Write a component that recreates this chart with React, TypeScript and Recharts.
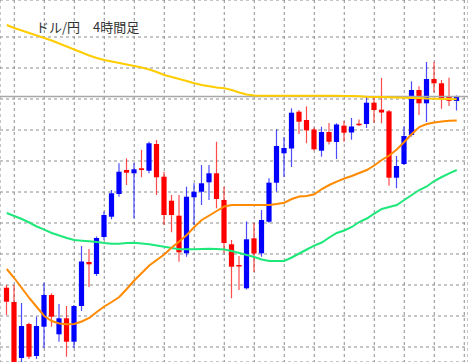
import React from 'react';
import { ComposedChart, Bar, Line, XAxis, YAxis, CartesianGrid, ReferenceLine } from 'recharts';

const chartTitle = 'ドル/円　4時間足';

const opens = [
  107.683, 107.54, 106.98, 107.32, 107.0, 107.293, 107.61, 107.217, 107.377, 107.143,
  107.5, 107.94, 107.82, 108.19, 108.393, 108.62, 108.86, 108.827, 108.877, 108.853,
  109.12, 108.793, 108.553, 108.403, 108.027, 108.587, 108.643, 108.737, 108.827, 108.56,
  108.117, 107.91, 107.677, 108.177, 108.027, 108.343, 108.733, 109.027, 109.075, 109.443,
  109.36, 109.265, 109.053, 109.24, 109.14, 109.303, 109.235, 109.323, 109.32, 109.533,
  109.463, 109.447, 108.783, 108.92, 109.21, 109.66, 109.527, 109.77, 109.727, 109.59,
  109.55,
];
const highs = [
  107.71, 107.71, 107.53, 107.333, 107.393, 107.733, 107.627, 107.52, 107.5, 107.51,
  108.1, 108.07, 108.195, 108.445, 108.66, 108.927, 108.977, 108.93, 109.06, 109.143,
  109.16, 108.843, 108.61, 108.61, 108.693, 108.727, 108.91, 108.91, 109.143, 108.693,
  108.16, 108.0, 108.345, 108.33, 108.46, 108.777, 109.267, 109.19, 109.477, 109.46,
  109.497, 109.285, 109.293, 109.33, 109.327, 109.35, 109.38, 109.365, 109.59, 109.6,
  109.78, 109.46, 109.0, 109.295, 109.747, 109.697, 109.94, 109.94, 109.76, 109.783,
  109.605,
];
const lows = [
  107.41, 106.84, 106.92, 106.97, 106.97, 107.08, 107.293, 107.143, 106.993, 107.08,
  107.45, 107.69, 107.8, 108.16, 108.367, 108.593, 108.71, 108.377, 108.787, 108.827,
  108.61, 108.31, 108.237, 107.943, 107.993, 108.31, 108.51, 108.56, 108.477, 108.03,
  107.577, 107.66, 107.665, 107.84, 107.993, 108.333, 108.643, 108.79, 108.89, 109.22,
  109.127, 109.055, 108.993, 109.115, 108.97, 109.143, 109.163, 109.3, 109.28, 109.33,
  109.327, 108.703, 108.677, 108.91, 109.195, 109.41, 109.34, 109.635, 109.472, 109.5,
  109.455,
];
const closes = [
  107.543, 106.92, 107.3, 106.993, 107.3, 107.61, 107.393, 107.377, 107.143, 107.5,
  107.945, 107.917, 108.18, 108.41, 108.627, 108.843, 108.833, 108.867, 108.86, 109.127,
  108.787, 108.41, 108.41, 108.037, 108.593, 108.643, 108.727, 108.827, 108.57, 108.13,
  107.893, 107.9, 108.167, 108.025, 108.36, 108.733, 109.1, 109.08, 109.433, 109.343,
  109.257, 109.067, 109.24, 109.143, 109.315, 109.233, 109.295, 109.31, 109.533, 109.46,
  109.435, 108.783, 108.9, 109.2, 109.66, 109.527, 109.77, 109.727, 109.577, 109.552,
  109.595,
];

const maLong = [
  110.31, 110.28, 110.255, 110.23, 110.205, 110.18, 110.155, 110.125, 110.095, 110.065,
  110.035, 110.005, 109.98, 109.96, 109.945, 109.93, 109.915, 109.9, 109.885, 109.865,
  109.84, 109.81, 109.79, 109.77, 109.75, 109.727, 109.71, 109.697, 109.685, 109.677,
  109.66, 109.635, 109.615, 109.605, 109.603, 109.603, 109.603, 109.603, 109.603, 109.603,
  109.603, 109.603, 109.603, 109.603, 109.603, 109.6, 109.6, 109.597, 109.593, 109.591,
  109.589, 109.587, 109.585, 109.583, 109.581, 109.579, 109.575, 109.573, 109.571, 109.569,
  109.567,
];
const maMid = [
  107.87, 107.78, 107.68, 107.58, 107.49, 107.4, 107.35, 107.325, 107.317, 107.32,
  107.345, 107.38, 107.44, 107.495, 107.54, 107.59, 107.67, 107.755, 107.83, 107.905,
  107.96, 108.015, 108.085, 108.145, 108.21, 108.29, 108.36, 108.405, 108.45, 108.495,
  108.51, 108.51, 108.51, 108.51, 108.51, 108.51, 108.52, 108.533, 108.57, 108.595,
  108.6, 108.617, 108.67, 108.71, 108.743, 108.775, 108.8, 108.83, 108.86, 108.905,
  108.96, 109.005, 109.065, 109.14, 109.22, 109.29, 109.32, 109.335, 109.345, 109.353,
  109.355,
];
const maShort = [
  108.43, 108.4, 108.37, 108.335, 108.295, 108.263, 108.23, 108.205, 108.18, 108.16,
  108.153, 108.147, 108.14, 108.13, 108.123, 108.123, 108.13, 108.133, 108.125, 108.117,
  108.105, 108.093, 108.08, 108.067, 108.067, 108.067, 108.07, 108.073, 108.07, 108.065,
  108.05, 108.03, 108.01, 107.99, 107.965, 107.95, 107.95, 107.95, 107.985, 108.025,
  108.065, 108.103, 108.135, 108.185, 108.23, 108.255, 108.29, 108.34, 108.375, 108.423,
  108.47, 108.49, 108.51, 108.56, 108.61, 108.66, 108.695, 108.75, 108.79, 108.827,
  108.86,
];

const priceTicks = [110.5, 110.19, 109.88, 109.57, 109.26, 108.95, 108.64, 108.33, 108.02, 107.71, 107.4, 107.09];
const timeTicks = [1, 5, 9, 13, 17, 21, 25, 29, 33, 37, 41, 45, 49, 53, 57, 61];

const data = closes.map((c, i) => ({
  idx: i,
  open: opens[i],
  high: highs[i],
  low: lows[i],
  close: c,
  range: [lows[i], highs[i]],
  maLong: maLong[i],
  maMid: maMid[i],
  maShort: maShort[i],
}));

const Candle = (props: any) => {
  const { x, y, width, height, payload } = props;
  if (x == null || y == null || !payload) return null;
  const { open, close, high, low } = payload;
  const span = high - low;
  const toY = (v: number) => (span === 0 ? y : y + ((high - v) / span) * height);
  const up = close >= open;
  const color = up ? '#0000ff' : '#ff0000';
  const cx = x + width / 2;
  const top = toY(Math.max(open, close));
  const bot = toY(Math.min(open, close));
  const bodyH = Math.max(1.5, bot - top);
  return (
    <g>
      <line x1={cx} x2={cx} y1={y} y2={y + height} stroke={color} strokeOpacity={0.7} strokeWidth={1.2} />
      <rect x={cx - 2.6} y={top} width={5.2} height={bodyH} fill={color} />
    </g>
  );
};

export default function App() {
  return (
    <div style={{ position: 'fixed', left: 0, top: 0, width: 468, height: 362, background: '#fff' }}>
      <ComposedChart width={468} height={362} data={data} margin={{ top: 0, right: 0, bottom: 0, left: 0 }}>
        <XAxis dataKey="idx" type="number" domain={[-0.9, 61.5]} ticks={timeTicks} hide allowDataOverflow />
        <YAxis type="number" domain={[106.94, 110.56]} ticks={priceTicks} hide allowDataOverflow />
        <CartesianGrid stroke="#8c8c8c" strokeDasharray="3 3" />
        <ReferenceLine y={closes[closes.length - 1]} stroke="#a8a8a8" strokeWidth={1.6} />
        <Bar dataKey="range" barSize={5} shape={<Candle />} isAnimationActive={false} />
        <Line dataKey="maShort" type="linear" stroke="#1ee87a" strokeWidth={2} dot={false} activeDot={false} isAnimationActive={false} />
        <Line dataKey="maMid" type="linear" stroke="#ff8a00" strokeWidth={2} dot={false} activeDot={false} isAnimationActive={false} />
        <Line dataKey="maLong" type="linear" stroke="#ffcc00" strokeWidth={2} dot={false} activeDot={false} isAnimationActive={false} />
      </ComposedChart>
      <div
        style={{
          position: 'absolute',
          left: 36,
          top: 20,
          fontSize: 13,
          lineHeight: '13px',
          color: '#333',
          fontFamily: '"Noto Sans CJK JP", "Noto Sans", sans-serif',
          whiteSpace: 'pre',
        }}
      >
        {chartTitle}
      </div>
    </div>
  );
}
